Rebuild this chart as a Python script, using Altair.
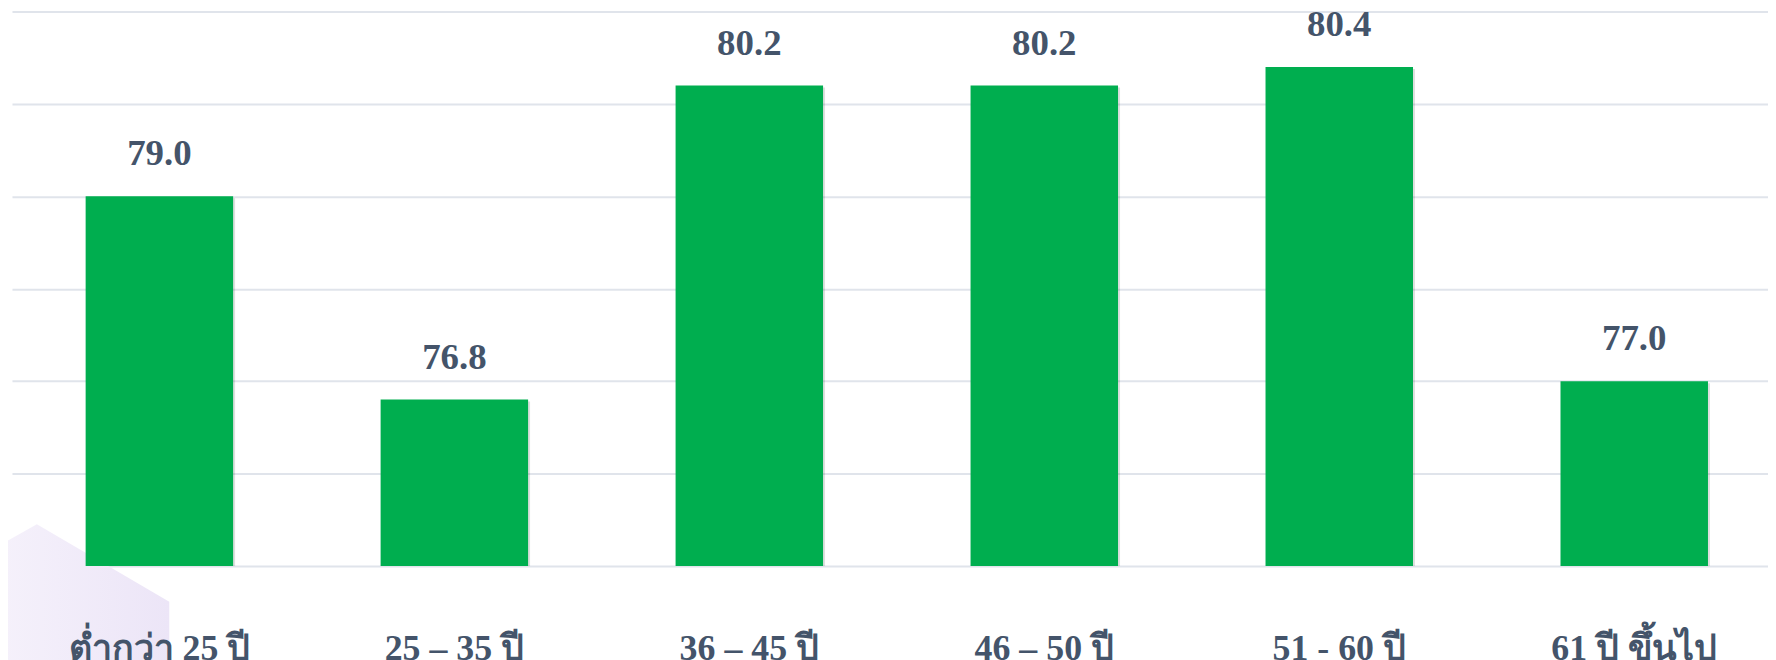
import altair as alt
import pandas as pd

categories = ["ต่ำกว่า 25 ปี", "25 – 35 ปี", "36 – 45 ปี", "46 – 50 ปี", "51 - 60 ปี", "61 ปี ขึ้นไป"]
values = [79.0, 76.8, 80.2, 80.2, 80.4, 77.0]
y_ticks = [75, 76, 77, 78, 79, 80, 81]

# decorative hexagon in the lower-left corner (pixel coordinates of the plot area)
hex_x = [-12, 25, 158]
hex_y = [536, 515, 593]
hex_y2 = [700, 700, 700]

df = pd.DataFrame({"cat": categories, "val": values,
                   "lab": [f"{v:.1f}" for v in values]})
hexdf = pd.DataFrame({"hx": hex_x, "hy": hex_y, "hy2": hex_y2})

W, H = 1764, 557
TXT = "#44546A"
FONT = "Liberation Serif"

xscale = alt.Scale(domain=categories, paddingInner=0.5, paddingOuter=0.2266, align=0.551)
yscale = alt.Scale(domain=[75, 81], nice=False, zero=False)

xenc = alt.X("cat:N", scale=xscale, sort=categories, title=None,
             axis=alt.Axis(labelAngle=0, ticks=False, tickSize=0, domain=False, grid=False,
                           labelFont=FONT, labelFontSize=36, labelFontWeight="bold",
                           labelColor=TXT, labelBaseline="alphabetic", labelPadding=94,
                           labelLimit=400, zindex=2))

hexagon = alt.Chart(hexdf).mark_area(
    color=alt.Gradient(gradient="linear",
                       stops=[alt.GradientStop(color="#F5F1FB", offset=0),
                              alt.GradientStop(color="#ECE5F7", offset=1)],
                       x1=0, x2=1, y1=0, y2=0),
    opacity=1).encode(
    x=alt.X("hx:Q", scale=None, axis=None),
    y=alt.Y("hy:Q", scale=None, axis=None),
    y2="hy2:Q",
)

shadow = alt.Chart(df).mark_bar(color="#000000", opacity=0.13, xOffset=2, yOffset=2).encode(
    x=xenc,
    y=alt.Y("val:Q", scale=yscale, title=None,
            axis=alt.Axis(values=y_ticks, labels=False, ticks=False, domain=False,
                          grid=True, gridColor="#E0E4EB", gridWidth=2)),
    y2=alt.datum(75),
)

bars = alt.Chart(df).mark_bar(color="#00AE4F").encode(
    x=xenc,
    y=alt.Y("val:Q", scale=yscale),
    y2=alt.datum(75),
)

labels = alt.Chart(df).mark_text(font=FONT, fontSize=37, fontWeight="bold", color=TXT,
                                 baseline="alphabetic", dy=-31).encode(
    x=xenc,
    y=alt.Y("val:Q", scale=yscale),
    text="lab:N",
)

main = alt.layer(shadow, bars, labels)

chart = alt.layer(hexagon, main).resolve_scale(x="independent", y="independent").properties(
    width=W, height=H,
    autosize=alt.AutoSizeParams(type="none"),
    padding={"left": 4, "top": 2, "right": 0, "bottom": 100},
).configure_view(stroke=None).configure_axis(domain=False)

chart.save("out.html", embed_options={"renderer": "svg", "actions": False})
